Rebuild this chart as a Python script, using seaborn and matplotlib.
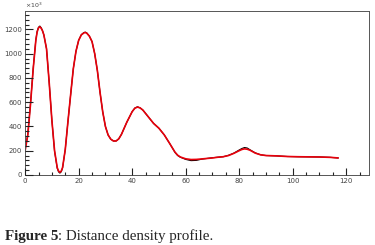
import matplotlib
matplotlib.use("Agg")
import matplotlib.pyplot as plt
from matplotlib.ticker import MultipleLocator
import seaborn as sns
import pandas as pd

# distance axis and density values (x10^3)
distance = [0, 1, 2, 3, 4, 4.5, 5, 5.5, 6, 6.5, 7, 8, 9, 10, 11, 12, 12.5, 13, 13.5,
            14, 15, 16, 17, 18, 19, 20, 21, 22, 22.5, 23, 24, 25, 26, 27, 28, 29, 30,
            31, 32, 33, 34, 35, 36, 38, 40, 41, 42, 43, 44, 46, 48, 50, 52, 54, 56,
            57, 58, 60, 62, 64, 66, 68, 70, 72, 74, 76, 78, 80, 81, 82, 83, 84, 86,
            88, 90, 94, 98, 102, 106, 110, 114, 117]
fit = [200, 330, 580, 870, 1110, 1180, 1213, 1222, 1210, 1188, 1155, 1040, 760, 450,
       200, 60, 32, 22, 32, 62, 210, 440, 660, 875, 1020, 1110, 1155, 1172, 1174, 1170,
       1145, 1100, 1000, 860, 680, 520, 400, 330, 295, 280, 280, 298, 335, 435, 522,
       550, 560, 552, 535, 480, 425, 385, 330, 260, 188, 163, 148, 133, 127, 128, 132,
       136, 140, 146, 150, 160, 178, 200, 210, 215, 212, 204, 180, 166, 160, 157, 152,
       150, 149, 148, 145, 140]
data = [210, 335, 585, 875, 1115, 1185, 1218, 1228, 1214, 1190, 1155, 1040, 760, 450,
        195, 55, 25, 15, 26, 58, 210, 440, 660, 875, 1020, 1110, 1157, 1175, 1178, 1172,
        1145, 1100, 1000, 860, 680, 520, 400, 330, 295, 280, 280, 298, 335, 435, 522,
        552, 562, 553, 535, 480, 425, 385, 330, 260, 186, 160, 146, 128, 118, 120, 130,
        136, 142, 146, 150, 162, 180, 206, 218, 226, 222, 208, 182, 166, 160, 157, 152,
        150, 149, 148, 145, 140]

df = pd.DataFrame({"distance": distance, "data": data, "fit": fit})

sns.set_style("ticks", {"axes.axisbelow": False})
fig = plt.figure(figsize=(3.75, 2.45), dpi=100)
ax = fig.add_axes([0.067, 0.286, 0.917, 0.671])

sns.lineplot(x="distance", y="data", data=df, color="black", linewidth=0.8, ax=ax)
sns.lineplot(x="distance", y="fit", data=df, color="#e8000b", linewidth=1.2, ax=ax)

ax.set_xlim(0, 128.5)
ax.set_ylim(0, 1356)
ax.set_xlabel("")
ax.set_ylabel("")

ax.xaxis.set_major_locator(MultipleLocator(20))
ax.xaxis.set_minor_locator(MultipleLocator(5))
ax.yaxis.set_major_locator(MultipleLocator(200))
ax.yaxis.set_minor_locator(MultipleLocator(40))
ax.tick_params(which="both", direction="in", bottom=True, left=True, top=False,
               right=False, labelsize=5, labelcolor="#444444",
               color="#222222", width=0.8, pad=2)
ax.tick_params(axis="y", which="major", length=6)
ax.tick_params(axis="y", which="minor", length=3)
ax.tick_params(axis="x", which="major", length=5)
ax.tick_params(axis="x", which="minor", length=2.5)
for s in ax.spines.values():
    s.set_visible(True)
    s.set_color("#555555")
    s.set_linewidth(0.7)

ax.text(0.0, 1.005, r"$\times10^{3}$", transform=ax.transAxes, fontsize=4.5,
        color="#444444", ha="left", va="bottom")

# caption, bold part first then the rest
cap1 = fig.text(0.013, 0.022, "Figure 5", fontsize=10.8, fontweight="bold",
                family="Liberation Serif")
fig.canvas.draw()
bb = cap1.get_window_extent(fig.canvas.get_renderer())
fig.text(bb.x1 / fig.bbox.width, 0.022, ": Distance density profile.", fontsize=10.8,
         family="Liberation Serif")

plt.savefig("out.png", dpi=100)
